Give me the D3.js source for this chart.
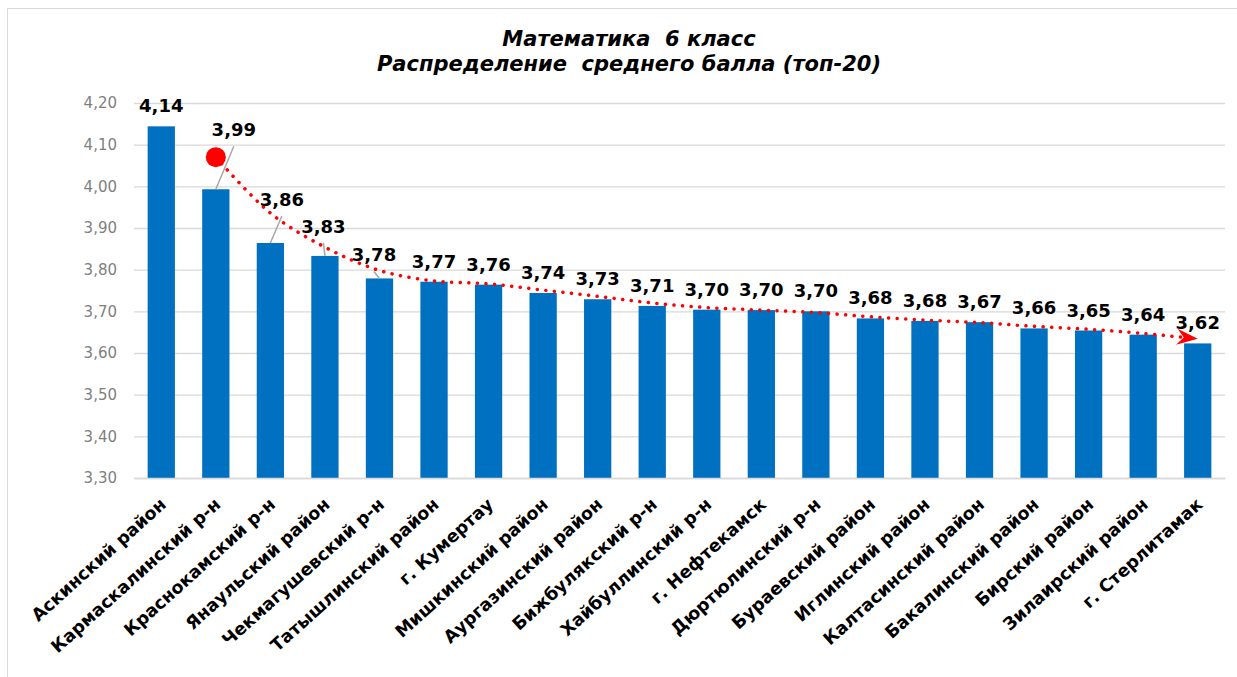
<!DOCTYPE html>
<html>
<head>
<meta charset="utf-8">
<script src="https://cdn.jsdelivr.net/npm/d3@7"></script>
<style>
body { margin: 0; background: #fff; }
svg { display: block; }
</style>
</head>
<body>
<svg id="chart"></svg>
<script>
var categories = ["Аскинский район", "Кармаскалинский р-н", "Краснокамский р-н", "Янаульский район",
    "Чекмагушевский р-н", "Татышлинский район", "г. Кумертау", "Мишкинский район",
    "Аургазинский район", "Бижбулякский р-н", "Хайбуллинский р-н", "г. Нефтекамск",
    "Дюртюлинский р-н", "Бураевский район", "Иглинский район", "Калтасинский район",
    "Бакалинский район", "Бирский район", "Зилаирский район", "г. Стерлитамак"];
var values = [4.144, 3.993, 3.864, 3.833, 3.779, 3.771, 3.764, 3.744, 3.729, 3.713,
    3.704, 3.703, 3.700, 3.683, 3.677, 3.674, 3.659, 3.654, 3.644, 3.623];
// trend line, from the 2nd category to the last
var trend = [4.070, 3.936, 3.854, 3.798, 3.773, 3.766, 3.751, 3.736, 3.720, 3.709,
    3.703, 3.697, 3.687, 3.679, 3.673, 3.664, 3.657, 3.647, 3.634];
var yTicks = [3.3, 3.4, 3.5, 3.6, 3.7, 3.8, 3.9, 4.0, 4.1, 4.2];
var titleLines = ["Математика  6 класс", "Распределение  среднего балла (топ-20)"];

var width = 1237;
var height = 677;
// labels that were dragged away from their bar: [dx, dy] in px
var labelNudge = { 1: [18, -39], 2: [11.5, -23], 3: [-1.5, -9], 4: [-5.5, -3] };

var svg = d3.select("#chart")
    .attr("width", width)
    .attr("height", height)
    .style("font-family", "'DejaVu Sans', sans-serif");

svg.append("rect")
    .attr("x", 7.5).attr("y", 8.5)
    .attr("width", 1240).attr("height", 700)
    .attr("fill", "#fff")
    .attr("stroke", "#d9d9d9");

var xScale = d3.scaleBand()
    .domain(categories)
    .range([134, 1225])
    .paddingInner(0.5)
    .paddingOuter(0.25);
var yScale = d3.scaleLinear()
    .domain([3.3, 4.2])
    .range([478, 103]);

var fmt = function (v) { return d3.format(".2f")(v).replace(".", ","); };

// title
svg.append("g")
    .selectAll("text")
    .data(titleLines)
    .enter()
    .append("text")
    .attr("x", 629)
    .attr("y", function (d, i) { return 46 + i * 25; })
    .attr("text-anchor", "middle")
    .attr("font-size", "21px")
    .attr("font-weight", "bold")
    .attr("font-style", "italic")
    .attr("fill", "#000")
    .attr("xml:space", "preserve")
    .text(function (d) { return d; });

// grid + y axis
var yAxis = d3.axisLeft(yScale)
    .tickValues(yTicks)
    .tickSize(-(1225 - 134))
    .tickPadding(17)
    .tickFormat(fmt);
var gy = svg.append("g")
    .attr("transform", "translate(134,0)")
    .call(yAxis);
gy.select(".domain").remove();
gy.selectAll(".tick line").attr("stroke", "#d9d9d9").attr("stroke-width", 1.3);
gy.selectAll(".tick text")
    .attr("fill", "#7f7f7f")
    .attr("font-size", "15px")
    .attr("font-family", "'DejaVu Sans', sans-serif");

// bars
svg.append("g")
    .selectAll("rect")
    .data(values)
    .enter()
    .append("rect")
    .attr("x", function (d, i) { return xScale(categories[i]); })
    .attr("y", function (d) { return yScale(d); })
    .attr("width", xScale.bandwidth())
    .attr("height", function (d) { return yScale(3.3) - yScale(d); })
    .attr("fill", "#0070c0");

// x axis labels
var xAxis = d3.axisBottom(xScale).tickSize(0).tickPadding(0);
var gx = svg.append("g")
    .attr("transform", "translate(0,478)")
    .call(xAxis);
gx.select(".domain").attr("stroke", "#d9d9d9").attr("stroke-width", 1.3);
gx.selectAll(".tick text")
    .attr("text-anchor", "end")
    .attr("font-size", "17.5px")
    .attr("font-weight", "bold")
    .attr("font-family", "'DejaVu Sans', sans-serif")
    .attr("fill", "#000")
    .attr("dy", 0)
    .attr("y", 0)
    .attr("transform", "translate(6,28) rotate(-42)");

// trend line
var cx = function (i) { return xScale(categories[i]) + xScale.bandwidth() / 2; };
var trendPts = trend.map(function (v, k) { return [cx(k + 1), yScale(v)]; });
var line = d3.line().curve(d3.curveCatmullRom);
var last = trendPts[trendPts.length - 1];
var prev = trendPts[trendPts.length - 2];
var ang = Math.atan2(last[1] - prev[1], last[0] - prev[0]);
svg.append("path")
    .attr("d", line(trendPts.slice(0, -1).concat([[last[0] - 14 * Math.cos(ang), last[1] - 14 * Math.sin(ang)]])))
    .attr("fill", "none")
    .attr("stroke", "#ff0000")
    .attr("stroke-width", 3.5)
    .attr("stroke-linecap", "round")
    .attr("stroke-dasharray", "0.1 8.5");
svg.append("circle")
    .attr("cx", trendPts[0][0])
    .attr("cy", trendPts[0][1])
    .attr("r", 10)
    .attr("fill", "#ff0000");
svg.append("path")
    .attr("d", "M0,0 L-21,-8 L-14,0 L-21,8 Z")
    .attr("transform", "translate(" + last[0] + "," + last[1] + ") rotate(" + (ang * 180 / Math.PI) + ")")
    .attr("fill", "#ff0000");

// data labels + leader lines
var labelPos = values.map(function (v, i) {
    var n = labelNudge[i] || [0, 0];
    return [cx(i) + n[0], yScale(v) - 14 + n[1]];
});
svg.append("g")
    .selectAll("line")
    .data(values.map(function (v, i) { return i; }).filter(function (i) { return labelNudge[i]; }))
    .enter()
    .append("line")
    .attr("x1", function (i) { return cx(i); })
    .attr("y1", function (i) { return yScale(values[i]); })
    .attr("x2", function (i) { return labelPos[i][0]; })
    .attr("y2", function (i) { return labelPos[i][1] + 10; })
    .attr("stroke", "#a6a6a6")
    .attr("stroke-width", 1.5);
svg.append("g")
    .selectAll("text")
    .data(values)
    .enter()
    .append("text")
    .attr("x", function (d, i) { return labelPos[i][0]; })
    .attr("y", function (d, i) { return labelPos[i][1]; })
    .attr("text-anchor", "middle")
    .attr("font-size", "18px")
    .attr("font-weight", "bold")
    .attr("fill", "#000")
    .text(fmt);
</script>
</body>
</html>
